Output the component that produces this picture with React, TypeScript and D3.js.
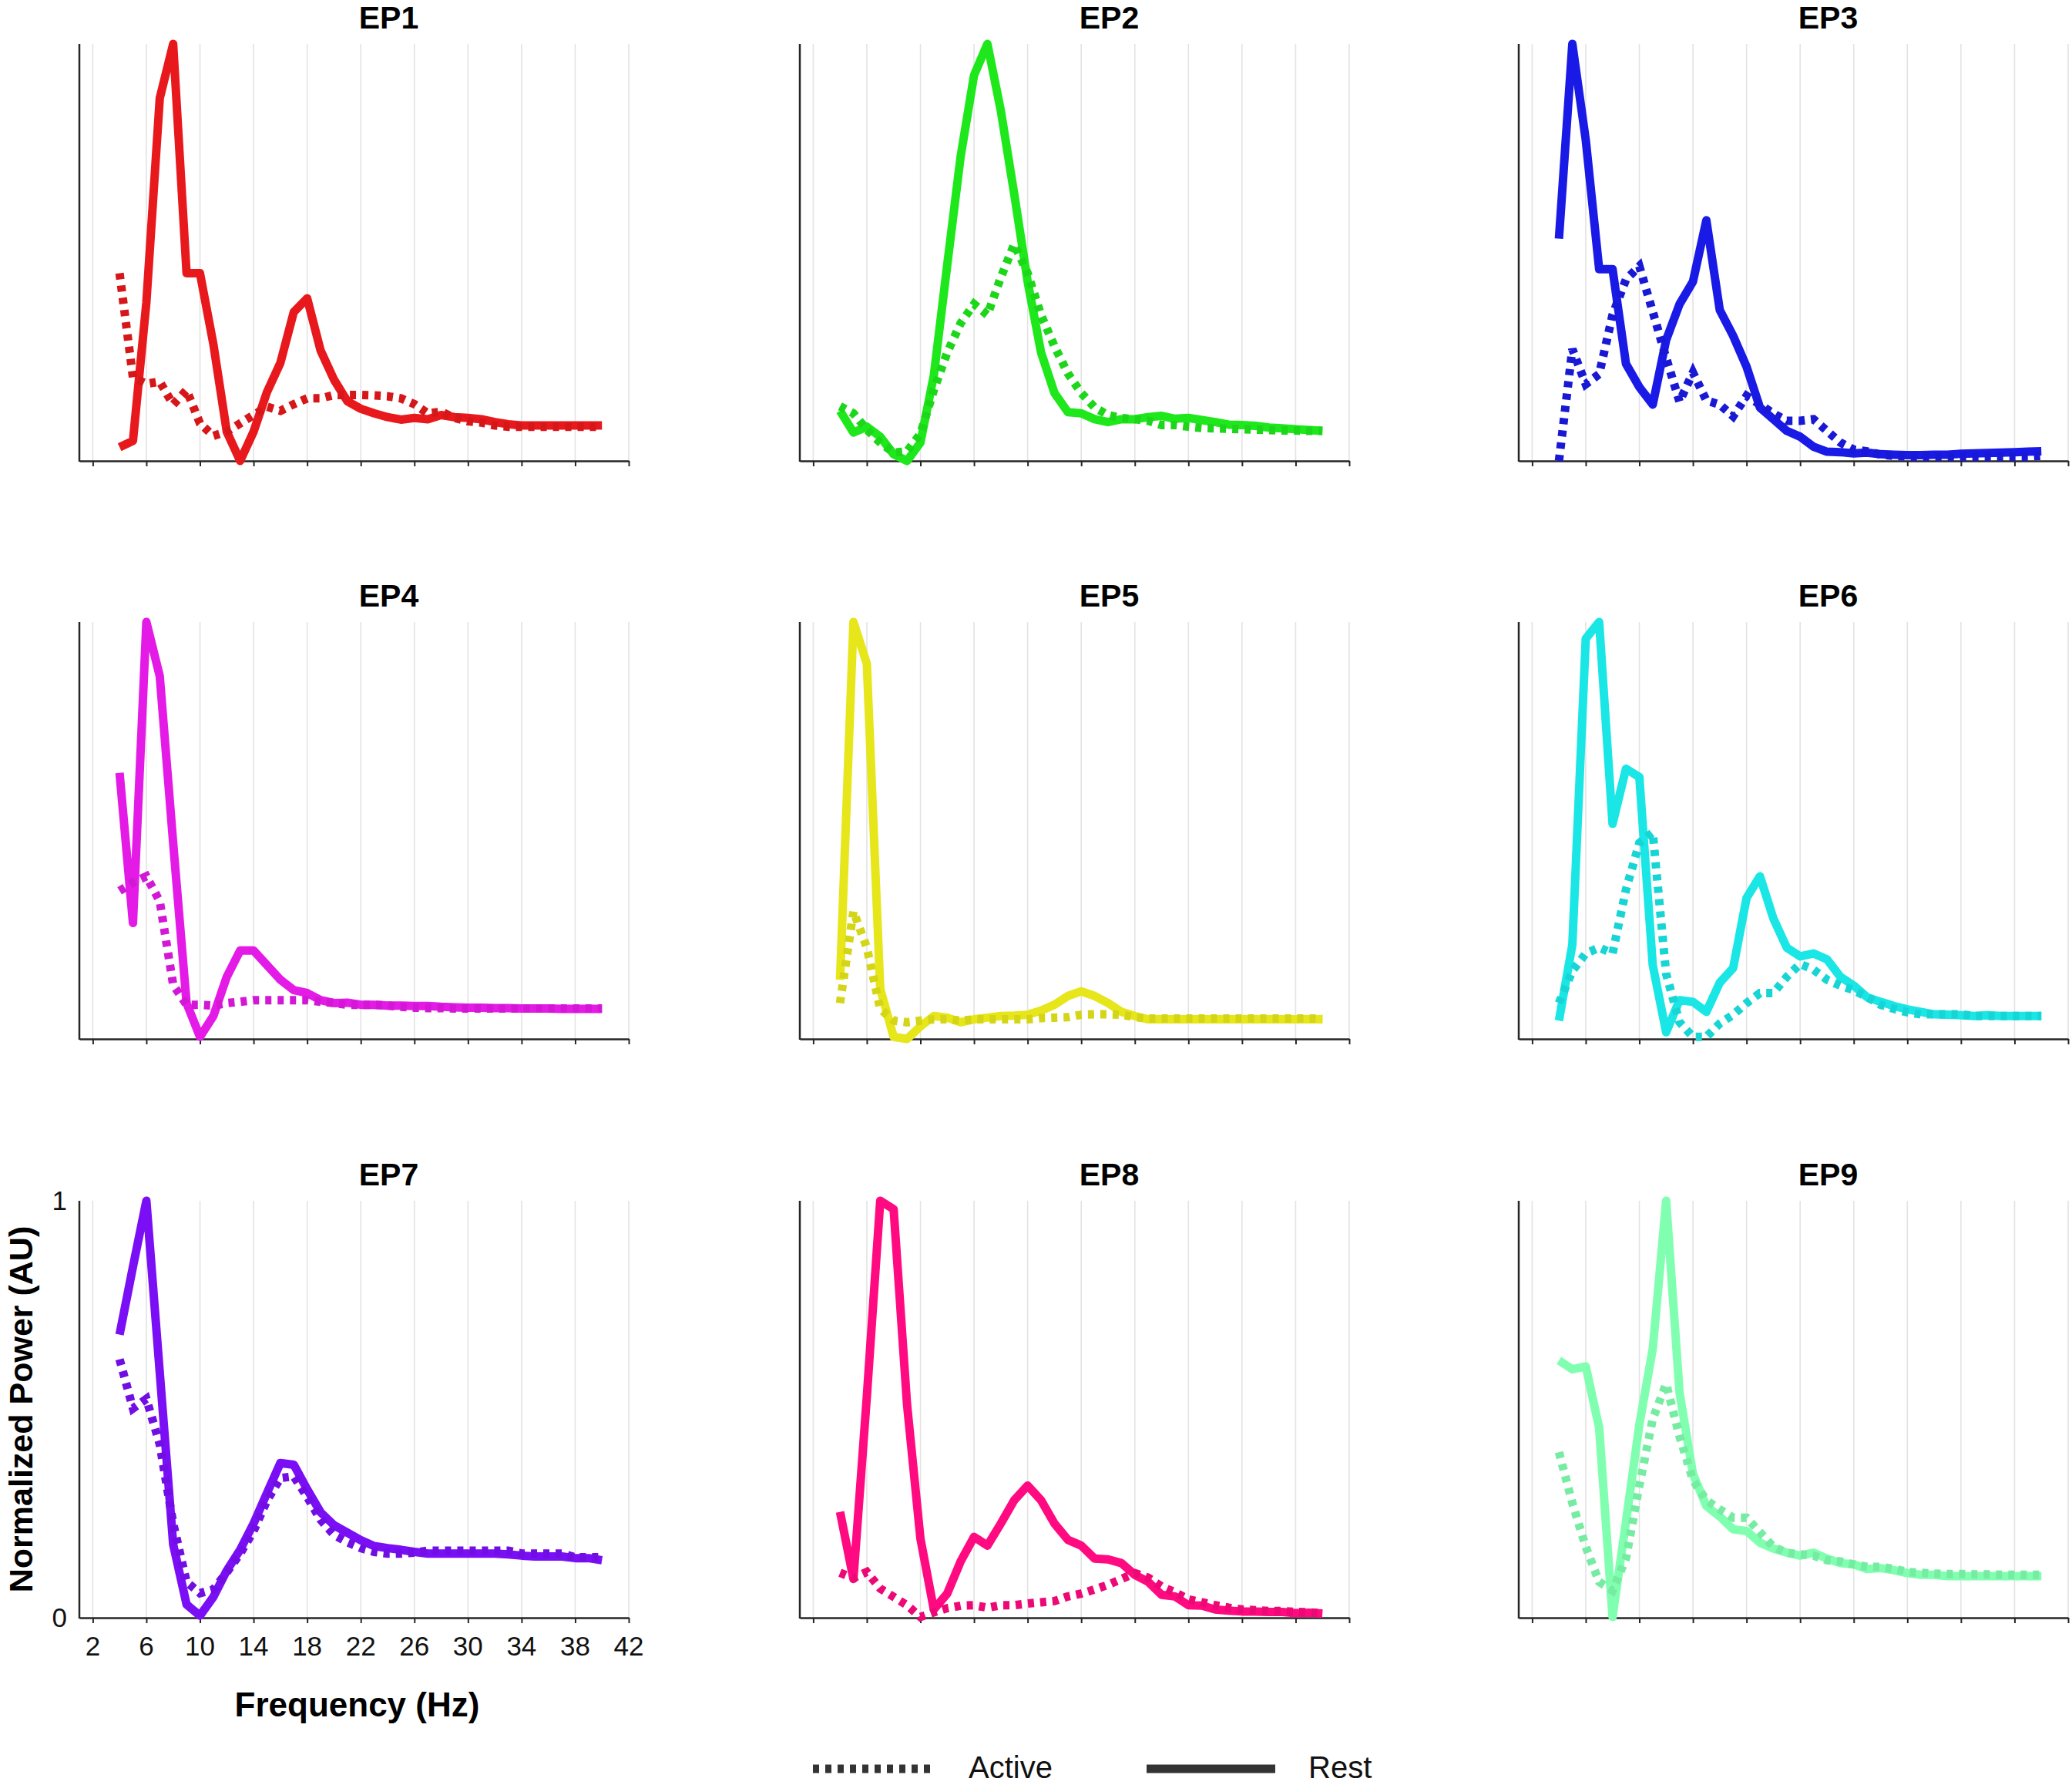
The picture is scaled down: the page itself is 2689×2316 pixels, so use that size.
import * as d3 from 'd3';
import { useEffect, useRef } from 'react';

// frequency bins (Hz)
const freqs = [
  4, 5, 6, 7, 8, 9, 10, 11, 12, 13, 14, 15, 16, 17, 18, 19, 20, 21, 22, 23, 24, 25, 26, 27, 28,
  29, 30, 31, 32, 33, 34, 35, 36, 37, 38, 39, 40,
];

// normalized power, rest (solid) and active (dotted), one pair per EP
const rest1 = [0.033, 0.048, 0.38, 0.87, 1.0, 0.45, 0.45, 0.28, 0.07, 0.0, 0.07, 0.165, 0.235, 0.357, 0.39, 0.265, 0.195, 0.143, 0.125, 0.114, 0.105, 0.099, 0.103, 0.1, 0.11, 0.105, 0.103, 0.1, 0.093, 0.088, 0.085, 0.085, 0.085, 0.085, 0.085, 0.085, 0.085];
const active1 = [0.45, 0.2, 0.185, 0.19, 0.135, 0.17, 0.09, 0.06, 0.07, 0.09, 0.11, 0.13, 0.12, 0.136, 0.15, 0.15, 0.158, 0.158, 0.158, 0.157, 0.155, 0.15, 0.136, 0.114, 0.118, 0.103, 0.095, 0.092, 0.085, 0.082, 0.082, 0.082, 0.082, 0.082, 0.082, 0.082, 0.082];
const rest2 = [0.12, 0.068, 0.082, 0.058, 0.016, 0.0, 0.044, 0.205, 0.47, 0.73, 0.925, 1.0, 0.84, 0.64, 0.43, 0.26, 0.163, 0.117, 0.114, 0.1, 0.093, 0.1, 0.1, 0.105, 0.108, 0.101, 0.103, 0.098, 0.093, 0.087, 0.086, 0.084, 0.08, 0.078, 0.076, 0.074, 0.072];
const active2 = [0.131, 0.114, 0.075, 0.044, 0.02, 0.023, 0.065, 0.17, 0.26, 0.33, 0.376, 0.35, 0.44, 0.52, 0.45, 0.35, 0.275, 0.21, 0.163, 0.128, 0.11, 0.103, 0.1, 0.096, 0.086, 0.086, 0.082, 0.079, 0.078, 0.077, 0.076, 0.075, 0.074, 0.073, 0.073, 0.072, 0.072];
const rest3 = [0.533, 1.0, 0.77, 0.46, 0.46, 0.233, 0.177, 0.135, 0.29, 0.376, 0.43, 0.577, 0.362, 0.3, 0.226, 0.128, 0.1, 0.072, 0.058, 0.034, 0.022, 0.021, 0.018, 0.02, 0.016, 0.015, 0.014, 0.014, 0.015, 0.015, 0.017, 0.018, 0.019, 0.02, 0.021, 0.022, 0.023];
const active3 = [0.0, 0.268, 0.184, 0.208, 0.35, 0.435, 0.467, 0.358, 0.247, 0.142, 0.212, 0.145, 0.135, 0.107, 0.156, 0.135, 0.114, 0.096, 0.096, 0.1, 0.072, 0.044, 0.027, 0.023, 0.015, 0.012, 0.01, 0.01, 0.01, 0.01, 0.01, 0.01, 0.01, 0.01, 0.01, 0.01, 0.012];
const rest4 = [0.638, 0.278, 1.0, 0.87, 0.47, 0.086, 0.005, 0.055, 0.149, 0.212, 0.212, 0.177, 0.142, 0.117, 0.11, 0.093, 0.086, 0.087, 0.082, 0.082, 0.08, 0.08, 0.079, 0.079, 0.077, 0.076, 0.075, 0.075, 0.074, 0.074, 0.073, 0.073, 0.073, 0.072, 0.072, 0.072, 0.072];
const active4 = [0.355, 0.375, 0.39, 0.33, 0.13, 0.082, 0.082, 0.08, 0.086, 0.089, 0.093, 0.093, 0.093, 0.093, 0.093, 0.089, 0.086, 0.082, 0.082, 0.082, 0.08, 0.077, 0.075, 0.074, 0.074, 0.073, 0.073, 0.073, 0.073, 0.073, 0.073, 0.073, 0.073, 0.073, 0.073, 0.073, 0.073];
const rest5 = [0.142, 1.0, 0.9, 0.12, 0.005, 0.0, 0.03, 0.055, 0.051, 0.04, 0.047, 0.051, 0.055, 0.056, 0.058, 0.068, 0.082, 0.103, 0.114, 0.103, 0.086, 0.065, 0.055, 0.047, 0.047, 0.047, 0.047, 0.047, 0.047, 0.047, 0.047, 0.047, 0.047, 0.047, 0.047, 0.047, 0.047];
const active5 = [0.086, 0.306, 0.219, 0.072, 0.044, 0.04, 0.044, 0.047, 0.047, 0.044, 0.047, 0.047, 0.047, 0.047, 0.047, 0.05, 0.051, 0.052, 0.058, 0.059, 0.059, 0.058, 0.052, 0.049, 0.049, 0.049, 0.049, 0.049, 0.049, 0.049, 0.049, 0.049, 0.049, 0.049, 0.049, 0.049, 0.049];
const rest6 = [0.044, 0.226, 0.96, 1.0, 0.516, 0.648, 0.628, 0.177, 0.016, 0.093, 0.089, 0.065, 0.135, 0.17, 0.338, 0.39, 0.289, 0.219, 0.198, 0.205, 0.191, 0.149, 0.128, 0.1, 0.089, 0.079, 0.071, 0.065, 0.059, 0.058, 0.057, 0.055, 0.057, 0.055, 0.055, 0.055, 0.055];
const active6 = [0.086, 0.163, 0.205, 0.219, 0.205, 0.358, 0.47, 0.495, 0.156, 0.04, 0.005, 0.005, 0.037, 0.058, 0.086, 0.11, 0.11, 0.149, 0.18, 0.166, 0.142, 0.128, 0.117, 0.1, 0.082, 0.072, 0.064, 0.059, 0.059, 0.059, 0.059, 0.055, 0.055, 0.055, 0.055, 0.055, 0.055];
const rest7 = [0.679, 0.842, 1.0, 0.588, 0.176, 0.032, 0.005, 0.05, 0.113, 0.163, 0.226, 0.299, 0.371, 0.367, 0.308, 0.253, 0.222, 0.204, 0.186, 0.172, 0.167, 0.163, 0.158, 0.154, 0.154, 0.154, 0.154, 0.154, 0.154, 0.152, 0.149, 0.147, 0.147, 0.147, 0.143, 0.143, 0.138];
const active7 = [0.62, 0.502, 0.525, 0.416, 0.226, 0.086, 0.059, 0.068, 0.109, 0.154, 0.208, 0.281, 0.335, 0.339, 0.29, 0.235, 0.199, 0.181, 0.167, 0.158, 0.154, 0.154, 0.156, 0.161, 0.161, 0.161, 0.161, 0.161, 0.161, 0.161, 0.154, 0.154, 0.154, 0.154, 0.145, 0.145, 0.145];
const rest8 = [0.254, 0.093, 0.53, 1.0, 0.98, 0.512, 0.19, 0.02, 0.058, 0.135, 0.194, 0.173, 0.226, 0.282, 0.317, 0.282, 0.226, 0.187, 0.173, 0.142, 0.14, 0.131, 0.103, 0.086, 0.055, 0.051, 0.03, 0.029, 0.02, 0.017, 0.015, 0.015, 0.014, 0.014, 0.011, 0.012, 0.01];
const active8 = [0.108, 0.095, 0.11, 0.07, 0.05, 0.03, 0.002, 0.013, 0.023, 0.029, 0.03, 0.024, 0.03, 0.03, 0.034, 0.037, 0.04, 0.051, 0.058, 0.068, 0.079, 0.093, 0.107, 0.096, 0.075, 0.061, 0.044, 0.037, 0.03, 0.024, 0.02, 0.018, 0.016, 0.016, 0.014, 0.013, 0.011];
const rest9 = [0.617, 0.596, 0.603, 0.456, 0.002, 0.23, 0.463, 0.645, 1.0, 0.54, 0.345, 0.268, 0.243, 0.212, 0.208, 0.18, 0.166, 0.156, 0.149, 0.156, 0.142, 0.131, 0.128, 0.117, 0.119, 0.114, 0.107, 0.103, 0.103, 0.1, 0.1, 0.1, 0.1, 0.1, 0.1, 0.1, 0.1];
const active9 = [0.397, 0.275, 0.17, 0.086, 0.065, 0.142, 0.317, 0.477, 0.561, 0.435, 0.33, 0.282, 0.26, 0.24, 0.24, 0.205, 0.17, 0.156, 0.152, 0.149, 0.138, 0.135, 0.128, 0.122, 0.122, 0.117, 0.11, 0.108, 0.106, 0.105, 0.105, 0.104, 0.104, 0.103, 0.103, 0.103, 0.103];

const panelNames = ['EP1', 'EP2', 'EP3', 'EP4', 'EP5', 'EP6', 'EP7', 'EP8', 'EP9'];
const restSeries = [rest1, rest2, rest3, rest4, rest5, rest6, rest7, rest8, rest9];
const activeSeries = [active1, active2, active3, active4, active5, active6, active7, active8, active9];
const panelColors = ['#e8191c', '#1ee81c', '#1a1ae6', '#e41ae6', '#e6e61a', '#1ae6e6', '#7a0ff5', '#ff0a80', '#80ffb0'];

const xTicks = [2, 6, 10, 14, 18, 22, 26, 30, 34, 38, 42];
const yTicks = [0, 1];
const legendLabels = ['Active', 'Rest'];

const W = 2689;
const H = 2316;
const colLeft = [103, 1038, 1971];
const rowTop = [57, 807, 1558];
const plotW = 713;
const plotH = 541;
const FONT = '"Liberation Sans", Arial, Helvetica, sans-serif';
const AXIS = '#262626';

export default function App(): React.ReactElement {
  const svgRef = useRef<SVGSVGElement>(null);

  useEffect(() => {
    if (!svgRef.current) return;
    const svg = d3.select(svgRef.current);
    svg.selectAll('*').remove();

    const x = d3.scaleLinear().domain([1, 42]).range([0, plotW]);
    const y = d3.scaleLinear().domain([0, 1]).range([plotH, 0]);

    const line = d3
      .line<number>()
      .x((_, i) => x(freqs[i]))
      .y((d) => y(d));

    panelNames.forEach((name, i) => {
      const left = colLeft[i % 3];
      const top = rowTop[Math.floor(i / 3)];
      const g = svg.append('g').attr('transform', `translate(${left}, ${top})`);
      const color = panelColors[i];
      const dotColor = d3.color(color)!.darker(0.22).formatHex();

      // vertical grid
      g.selectAll('.grid')
        .data(xTicks)
        .join('line')
        .attr('class', 'grid')
        .attr('x1', (d) => x(d))
        .attr('x2', (d) => x(d))
        .attr('y1', 0)
        .attr('y2', plotH)
        .attr('stroke', '#e3e3e3')
        .attr('stroke-width', 1.6);

      // x axis
      g.append('g')
        .attr('transform', `translate(0, ${plotH})`)
        .call(d3.axisBottom(x).tickValues(xTicks).tickSize(7).tickSizeOuter(0).tickFormat(() => ''))
        .call((a) => a.select('.domain').attr('stroke', AXIS).attr('stroke-width', 2.5))
        .call((a) => a.selectAll('.tick line').attr('stroke', AXIS).attr('stroke-width', 2));

      // y axis
      g.append('line')
        .attr('x1', 0)
        .attr('x2', 0)
        .attr('y1', y(0) + 1)
        .attr('y2', y(1))
        .attr('stroke', AXIS)
        .attr('stroke-width', 2.5);

      // rest (solid)
      g.append('path')
        .datum(restSeries[i])
        .attr('fill', 'none')
        .attr('stroke', color)
        .attr('stroke-width', 11)
        .attr('stroke-linejoin', 'round')
        .attr('d', line);

      // active (dotted)
      g.append('path')
        .datum(activeSeries[i])
        .attr('fill', 'none')
        .attr('stroke', dotColor)
        .attr('stroke-width', 11)
        .attr('stroke-dasharray', '8,8')
        .attr('d', line);

      g.append('text')
        .attr('x', plotW / 2 + 45)
        .attr('y', -20)
        .attr('text-anchor', 'middle')
        .attr('font-family', FONT)
        .attr('font-weight', 'bold')
        .attr('font-size', 41)
        .text(name);

      if (i === 6) {
        g.selectAll('.xlab')
          .data(xTicks)
          .join('text')
          .attr('class', 'xlab')
          .attr('x', (d) => x(d))
          .attr('y', plotH + 49)
          .attr('text-anchor', 'middle')
          .attr('font-family', FONT)
          .attr('font-size', 35)
          .attr('fill', '#111')
          .text((d) => d);

        g.selectAll('.ylab')
          .data(yTicks)
          .join('text')
          .attr('class', 'ylab')
          .attr('x', -16)
          .attr('y', (d) => y(d) + 12)
          .attr('text-anchor', 'end')
          .attr('font-family', FONT)
          .attr('font-size', 35)
          .attr('fill', '#111')
          .text((d) => d);

        g.append('text')
          .attr('x', plotW / 2 + 4)
          .attr('y', plotH + 128)
          .attr('text-anchor', 'middle')
          .attr('font-family', FONT)
          .attr('font-weight', 'bold')
          .attr('font-size', 44)
          .text('Frequency (Hz)');

        g.append('text')
          .attr('transform', `translate(${42 - left}, ${plotH / 2}) rotate(-90)`)
          .attr('text-anchor', 'middle')
          .attr('font-family', FONT)
          .attr('font-weight', 'bold')
          .attr('font-size', 43)
          .text('Normalized Power (AU)');
      }
    });

    // legend
    const lg = svg.append('g').attr('transform', 'translate(0, 2295)');
    const items = [
      { label: legendLabels[0], x1: 1055, x2: 1213, dash: '8,8', tx: 1257 },
      { label: legendLabels[1], x1: 1488, x2: 1655, dash: null, tx: 1698 },
    ];
    items.forEach((it) => {
      lg.append('line')
        .attr('x1', it.x1)
        .attr('x2', it.x2)
        .attr('y1', 0)
        .attr('y2', 0)
        .attr('stroke', '#333')
        .attr('stroke-width', 11)
        .attr('stroke-dasharray', it.dash);
      lg.append('text')
        .attr('x', it.tx)
        .attr('y', 12)
        .attr('font-family', FONT)
        .attr('font-size', 40)
        .attr('fill', '#111')
        .text(it.label);
    });
  }, []);

  return (
    <div style={{ position: 'absolute', left: 0, top: 0, background: '#fff' }}>
      <svg ref={svgRef} width={W} height={H} style={{ display: 'block' }} />
    </div>
  );
}
